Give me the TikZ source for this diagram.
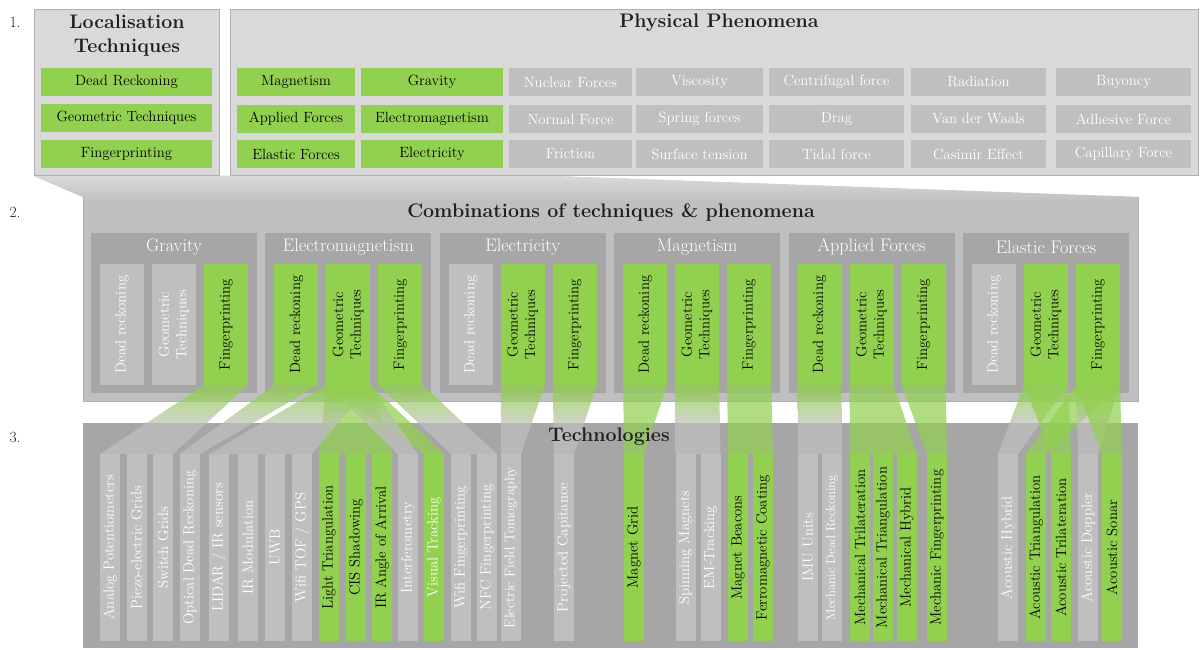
\documentclass[tikz,border=0pt]{standalone}
\usepackage{graphicx}
\definecolor{grnc}{HTML}{92D050}
\definecolor{gryc}{HTML}{BFBFBF}
\definecolor{lgry}{HTML}{D9D9D9}
\definecolor{dgry}{HTML}{A6A6A6}
\definecolor{edgec}{HTML}{AFAFAF}
\pgfdeclareverticalshading{grn2gry}{100bp}{color(0bp)=(gryc); color(46bp)=(gryc); color(68bp)=(grnc); color(100bp)=(grnc)}
\newcommand\colText[1]{\ifcase#1 Dead reckoning\or\begin{tabular}{@{}c@{}}Geometric\\Techniques\end{tabular}\or Fingerprinting\fi}
\newcommand\techcol[5]{\node[tech, fill=#3, text=#4] (t#1) at (#2,454) {\rotatebox{90}{#5}};}
\begin{document}
\begin{tikzpicture}[x=1pt,y=-1pt,
  base/.style={inner sep=0pt, outer sep=0pt, align=center, font=\fontsize{14.8}{17.5}\selectfont},
  panel/.style={base, anchor=north west, draw=edgec, fill=lgry, line width=0.8pt},
  pbox/.style={base, anchor=north west, minimum height=28pt},
  ttl/.style={base, font=\fontsize{19.6}{24}\selectfont\bfseries, text=black!88},
  num/.style={base, font=\fontsize{15.5}{18}\selectfont, text=black!88},
  sub/.style={base, anchor=north west, fill=dgry, minimum width=166pt, minimum height=160pt},
  subttl/.style={base, font=\fontsize{18.2}{21}\selectfont, text=white},
  col/.style={base, anchor=north west, minimum width=44pt, minimum height=121pt},
  tech/.style={base, anchor=north west, minimum width=20pt, minimum height=187pt},
  rgy/.style={shade, shading=grn2gry, opacity=.72},
  rgg/.style={fill=grnc, opacity=.72}
]
\useasboundingbox (0,0) rectangle (1200,650);

% ---------- Section 2 background (drawn first, under section 1) ----------
\fill[gryc] (34,176) -- (551,176) -- (1138,197) -- (1138,401) -- (83,401) -- (83,197) -- cycle;
\begin{scope}
  \clip (34,176) -- (551,176) -- (1138,197) -- (1138,401) -- (83,401) -- (83,197) -- cycle;
  \shade[top color=lgry, bottom color=gryc] (34,176) rectangle (1138,202);
\end{scope}
\draw[edgec, line width=0.8pt] (1138,197) -- (1138,401) -- (83,401) -- (83,197);

% ---------- Section 1 ----------
\node[num] (n1) at (15,22) {1.};
\node[panel, minimum width=185pt, minimum height=166pt] (loc) at (34,9) {};
\node[panel, minimum width=968pt, minimum height=166pt] (phen) at (230,9) {};
\node[ttl] (loctitle) at (127,35.5) {Localisation\\Techniques};
\node[ttl] (phentitle) at (719,23) {Physical Phenomena};

\node[pbox, fill=grnc, text=black, minimum width=171pt] (lt1) at (41,68) {Dead Reckoning};
\node[pbox, fill=grnc, text=black, minimum width=171pt] (lt2) at (41,104) {Geometric Techniques};
\node[pbox, fill=grnc, text=black, minimum width=171pt] (lt3) at (41,140) {Fingerprinting};

\foreach \x/\w/\f/\t/\a/\b/\c [count=\i] in {
  237/118/grnc/black/Magnetism/Applied Forces/Elastic Forces,
  361/142/grnc/black/Gravity/Electromagnetism/Electricity,
  509/123/gryc/white/Nuclear Forces/Normal Force/Friction,
  636/127/gryc/white/Viscosity/Spring forces/Surface tension,
  769/135/gryc/white/Centrifugal force/Drag/Tidal force,
  911/135/gryc/white/Radiation/Van der Waals/Casimir Effect,
  1056/135/gryc/white/Buyoncy/Adhesive Force/Capillary Force} {
  \node[pbox, fill=\f, text=\t, minimum width=\w pt] (p\i a) at (\x,68) {\a};
  \node[pbox, fill=\f, text=\t, minimum width=\w pt] (p\i b) at (\x,105) {\b};
  \node[pbox, fill=\f, text=\t, minimum width=\w pt] (p\i c) at (\x,140) {\c};
}

% ---------- Section 2 ----------
\node[num] (n2) at (15,212) {2.};
\node[ttl] (combtitle) at (611,212) {Combinations of techniques \& phenomena};
\foreach \n/\i in {Gravity/0, Electromagnetism/1, Electricity/2, Magnetism/3, Applied Forces/4, Elastic Forces/5} {
  \node[sub] (s\i) at ({91+174.4*\i},233) {};
  \node[subttl] (h\i) at ({91+174.4*\i+83},247) {\n};
}
\foreach \i/\j/\f/\t in {0/0/gryc/white, 0/1/gryc/white, 0/2/grnc/black,
  1/0/grnc/black, 1/1/grnc/black, 1/2/grnc/black,
  2/0/gryc/white, 2/1/grnc/black, 2/2/grnc/black,
  3/0/grnc/black, 3/1/grnc/black, 3/2/grnc/black,
  4/0/grnc/black, 4/1/grnc/black, 4/2/grnc/black,
  5/0/gryc/white, 5/1/grnc/black, 5/2/grnc/black} {
  \node[col, fill=\f, text=\t] (c\i\j) at ({91+174.4*\i+9+52*\j},264) {\rotatebox{90}{\colText{\j}}};
}

% ---------- Section 3 ----------
\node[num] (n3) at (15,437) {3.};
\node[base, anchor=north west, fill=dgry, minimum width=1055pt, minimum height=225pt] (techbox) at (83,423) {};

\techcol{1}{100}{gryc}{white}{Analog Potentiometers}
\techcol{2}{126.5}{gryc}{white}{Piezo-electric Grids}
\techcol{3}{153}{gryc}{white}{Switch Grids}
\techcol{4}{180}{gryc}{white}{Optical Dead Reckoning}
\techcol{5}{209}{gryc}{white}{LIDAR / IR sensors}
\techcol{6}{238}{gryc}{white}{IR Modulation}
\techcol{7}{265}{gryc}{white}{UWB}
\techcol{8}{292}{gryc}{white}{Wifi TOF / GPS}
\techcol{9}{319}{grnc}{black}{Light Triangulation}
\techcol{10}{346}{grnc}{black}{CIS Shadowing}
\techcol{11}{372}{grnc}{black}{IR Angle of Arrival}
\techcol{12}{398}{gryc}{white}{Interferometry}
\techcol{13}{424}{grnc}{white}{Visual Tracking}
\techcol{14}{451}{gryc}{white}{Wifi Fingerprinting}
\techcol{15}{477}{gryc}{white}{NFC Fingerprinting}
\techcol{16}{501}{gryc}{white}{\fontsize{14.1}{16}\selectfont Electric Field Tomography}
\techcol{17}{554}{gryc}{white}{Projected Capitance}
\techcol{18}{624}{grnc}{black}{Magnet Grid}
\techcol{19}{675.5}{gryc}{white}{Spinning Magnets}
\techcol{20}{700.5}{gryc}{white}{EM-Tracking}
\techcol{21}{728}{grnc}{black}{Magnet Beacons}
\techcol{22}{753}{grnc}{black}{Ferromagnetic Coating}
\techcol{23}{798}{gryc}{white}{IMU Units}
\techcol{24}{822}{gryc}{white}{\fontsize{12.9}{15}\selectfont Mechanic Dead Reckoning}
\techcol{25}{850}{grnc}{black}{Mechanical Trilateration}
\techcol{26}{873}{grnc}{black}{Mechanical Triangulation}
\techcol{27}{897}{grnc}{black}{Mechanical Hybrid}
\techcol{28}{927}{grnc}{black}{Mechanic Fingerprinting}
\techcol{29}{998}{gryc}{white}{Acoustic Hybrid}
\techcol{30}{1026}{grnc}{black}{Acoustic Triangulation}
\techcol{31}{1051}{grnc}{black}{Acoustic Trilateration}
\techcol{32}{1078}{gryc}{white}{Acoustic Doppler}
\techcol{33}{1102}{grnc}{black}{Acoustic Sonar}

% ---------- Ribbons ----------
\path[rgg] (c11.south west) -- (c11.south east) -- (t11.north east) -- (t9.north west) -- cycle;
\path[rgg] (c11.south west) -- (c11.south east) -- (t13.north east) -- (t13.north west) -- cycle;
\path[rgy] (c02.south west) -- (c02.south east) -- (t3.north east) -- (t1.north west) -- cycle;
\path[rgy] (c10.south west) -- (c10.south east) -- (t4.north east) -- (t4.north west) -- cycle;
\path[rgy] (c11.south west) -- (c11.south east) -- (t8.north east) -- (t5.north west) -- cycle;
\path[rgy] (c11.south west) -- (c11.south east) -- (t12.north east) -- (t12.north west) -- cycle;
\path[rgy] (c12.south west) -- (c12.south east) -- (t15.north east) -- (t14.north west) -- cycle;
\path[rgy] (c21.south west) -- (c21.south east) -- (t16.north east) -- (t16.north west) -- cycle;
\path[rgy] (c22.south west) -- (c22.south east) -- (t17.north east) -- (t17.north west) -- cycle;
\path[rgg] (c30.south west) -- (c30.south east) -- (t18.north east) -- (t18.north west) -- cycle;
\path[rgy] (c31.south west) -- (c31.south east) -- (t20.north east) -- (t19.north west) -- cycle;
\path[rgg] (c32.south west) -- (c32.south east) -- (t22.north east) -- (t21.north west) -- cycle;
\path[rgy] (c40.south west) -- (c40.south east) -- (t24.north east) -- (t23.north west) -- cycle;
\path[rgg] (c41.south west) -- (c41.south east) -- (t27.north east) -- (t25.north west) -- cycle;
\path[rgg] (c42.south west) -- (c42.south east) -- (t28.north east) -- (t28.north west) -- cycle;
\path[rgy] (c51.south west) -- (c51.south east) -- (t29.north east) -- (t29.north west) -- cycle;
\path[rgg] (c51.south west) -- (c51.south east) -- (t31.north east) -- (t31.north west) -- cycle;
\path[rgg] (c52.south west) -- (c52.south east) -- (t30.north east) -- (t30.north west) -- cycle;
\path[rgy] (c52.south west) -- (c52.south east) -- (t32.north east) -- (t32.north west) -- cycle;
\path[rgg] (c52.south west) -- (c52.south east) -- (t33.north east) -- (t33.north west) -- cycle;

\node[ttl] (techtitle) at (609,437) {Technologies};
\end{tikzpicture}
\end{document}
